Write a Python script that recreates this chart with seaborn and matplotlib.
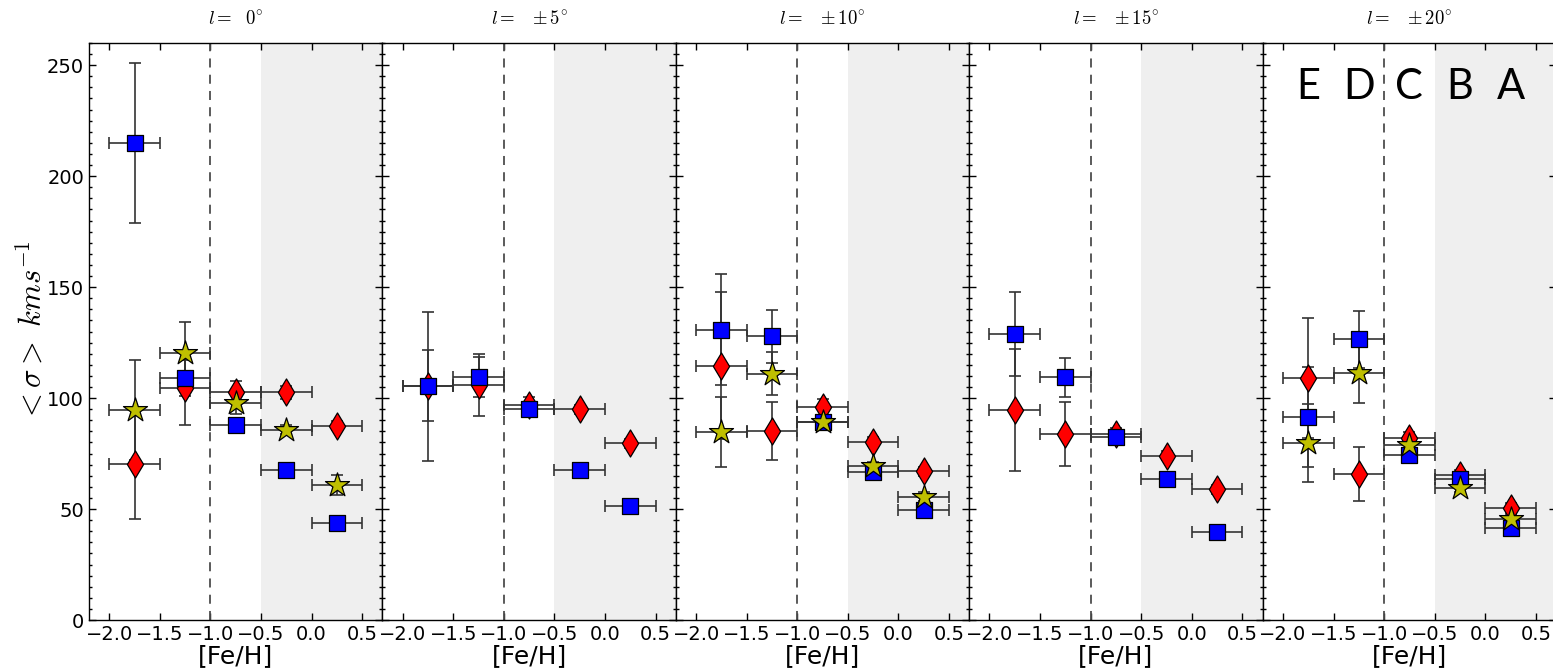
import numpy as np
import pandas as pd
import matplotlib
matplotlib.use("Agg")
import matplotlib.pyplot as plt
from matplotlib.ticker import MultipleLocator
import seaborn as sns

sns.set_style("ticks")
plt.rcParams["font.family"] = ["DejaVu Sans"]
plt.rcParams["mathtext.fontset"] = "cm"
plt.rcParams["text.color"] = "black"
plt.rcParams["axes.labelcolor"] = "black"
plt.rcParams["xtick.color"] = "black"
plt.rcParams["ytick.color"] = "black"

# ---------------- data ----------------
bins = [-1.75, -1.25, -0.75, -0.25, 0.25]
bin_halfwidth = 0.25
titles = [r"$l =\ \ 0^{\circ}$", r"$l =\ \ \pm5^{\circ}$", r"$l =\ \ \pm10^{\circ}$",
          r"$l =\ \ \pm15^{\circ}$", r"$l =\ \ \pm20^{\circ}$"]
pop_letters = ["E", "D", "C", "B", "A"]

red_vals = [[70.5, 104.5, 102.6, 102.6, 87.5],
            [105.5, 106.0, 97.0, 95.0, 79.6],
            [114.6, 85.3, 95.8, 80.3, 67.0],
            [94.6, 83.8, 84.0, 74.0, 58.9],
            [109.0, 65.7, 82.0, 65.5, 50.6]]
red_errs = [[25, 16.5, 5, 3, 2],
            [16, 14, 3.5, 2, 2],
            [33, 13, 4, 2, 2],
            [27.3, 14.4, 2.5, 2, 2],
            [27, 12.3, 2.5, 2, 2]]

blue_vals = [[214.8, 109.0, 87.8, 67.5, 43.5],
             [105.3, 109.7, 95.0, 67.6, 51.4],
             [130.9, 127.8, 89.3, 66.5, 49.4],
             [129.0, 109.4, 82.3, 63.6, 39.8],
             [91.3, 126.4, 74.5, 63.7, 41.6]]
blue_errs = [[36, 8, 2, 2, 2],
             [33.5, 9, 2, 2, 2],
             [25, 12, 2, 2, 2],
             [19, 8.7, 2, 2, 2],
             [22.5, 12.8, 2, 2, 2]]

star_vals = [[94.6, 120.2, 97.6, 85.7, 60.7],
             None,
             [84.7, 110.9, 89.3, 69.2, 55.6],
             None,
             [79.8, 111.2, 79.0, 59.7, 45.7]]
star_errs = [[22.5, 14, 5, 2, 4.5],
             None,
             [15.6, 9.7, 2, 2, 2],
             None,
             [17.5, 13.6, 2, 2, 2]]

series = [
    ("red", red_vals, red_errs, "d", (1.0, 0.0, 0.0), 190),
    ("blue", blue_vals, blue_errs, "s", (0.0, 0.0, 1.0), 125),
    ("star", star_vals, star_errs, "*", (0.75, 0.75, 0.0), 330),
]

# ---------------- figure ----------------
fig, axes = plt.subplots(1, 5, figsize=(15.53, 6.71), dpi=100, sharey=True)
fig.subplots_adjust(left=89 / 1553, right=1.002, bottom=1 - 620 / 671, top=1 - 43 / 671, wspace=0)

for i, ax in enumerate(axes):
    ax.axvspan(-0.5, 0.7, color="#efefef", lw=0, zorder=0)
    ax.axvline(-1.0, color="0.3", ls=(0, (5, 4)), lw=1.3, zorder=1)
    for name, vals, errs, mk, col, s in series:
        if vals[i] is None:
            continue
        ax.errorbar(bins, vals[i], xerr=bin_halfwidth, yerr=errs[i], fmt="none",
                    ecolor="0.2", elinewidth=1.4, capsize=4, capthick=1.4, zorder=2, alpha=0.85)
    for name, vals, errs, mk, col, s in series:
        if vals[i] is None:
            continue
        df = pd.DataFrame({"feh": bins, "sigma": vals[i]})
        sns.scatterplot(data=df, x="feh", y="sigma", marker=mk, color=col, s=s,
                        edgecolor="black", linewidth=0.9, ax=ax, zorder=3, legend=False)
    ax.set_xlim(-2.2, 0.7)
    ax.set_ylim(0, 260)
    ax.xaxis.set_major_locator(MultipleLocator(0.5))
    ax.yaxis.set_major_locator(MultipleLocator(50))
    ax.yaxis.set_minor_locator(MultipleLocator(5))
    ax.tick_params(axis="both", which="both", direction="in", top=True, right=True,
                   labelsize=14, width=1, colors="black")
    ax.tick_params(which="major", length=5)
    ax.tick_params(which="minor", length=2.5)
    ax.set_xlabel("[Fe/H]", fontsize=18, labelpad=0, color="black")
    ax.set_ylabel("")
    ax.set_title(titles[i], fontsize=13.5, pad=14, color="black")
    for sp in ax.spines.values():
        sp.set_linewidth(1.0)
        sp.set_color("black")

axes[0].set_ylabel(r"$<\sigma>\ kms^{-1}$", fontsize=22, labelpad=0, color="black")
for b, letter in zip(bins, pop_letters):
    axes[4].text(b, 240, letter, fontsize=30, family="Lato", ha="center", va="center",
                 color="black")

fig.savefig("out.png", dpi=100)
